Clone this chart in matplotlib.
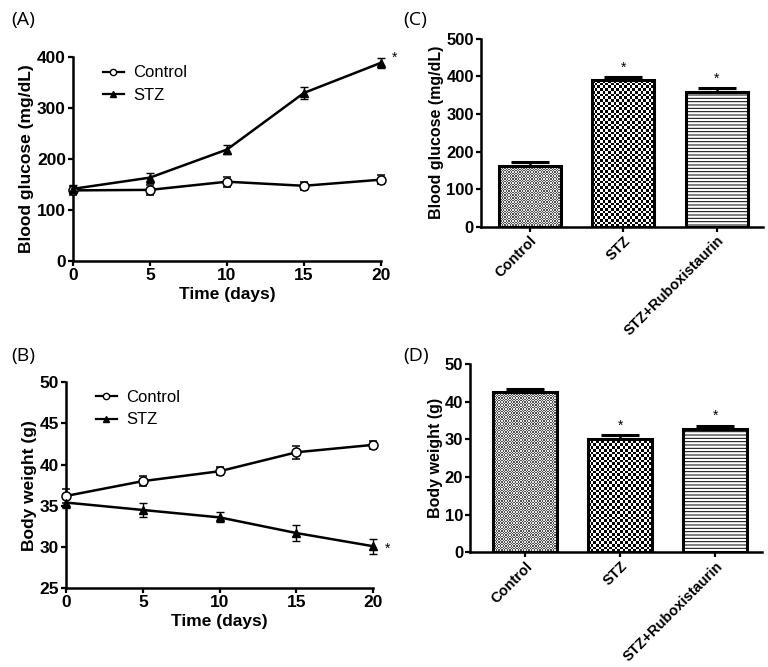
import numpy as np
import matplotlib
matplotlib.use("Agg")
import matplotlib.pyplot as plt
from matplotlib.colors import ListedColormap
from matplotlib.lines import Line2D

plt.rcParams['font.family'] = ['Liberation Sans', 'DejaVu Sans']
plt.rcParams['hatch.linewidth'] = 0.7
plt.rcParams['hatch.color'] = '#6a6a6a'

# ---- data ----
days = [0, 5, 10, 15, 20]
glu_control = [138, 139, 155, 147, 159]
glu_control_err = [9, 10, 10, 8, 9]
glu_stz = [141, 163, 218, 329, 388]
glu_stz_err = [8, 10, 9, 11, 10]

bw_control = [36.2, 38.0, 39.2, 41.5, 42.4]
bw_control_err = [0.8, 0.6, 0.5, 0.8, 0.5]
bw_stz = [35.4, 34.5, 33.6, 31.7, 30.1]
bw_stz_err = [0.6, 0.9, 0.6, 1.0, 0.9]

groups = ['Control', 'STZ', 'STZ+Ruboxistaurin']
bar_glu = [161, 389, 357]
bar_glu_err = [10, 9, 12]
bar_bw = [42.5, 30.1, 32.7]
bar_bw_err = [0.9, 1.0, 1.0]
glu_sig = [False, True, True]
bw_sig = [False, True, True]

fig = plt.figure(figsize=(7.68, 6.67), dpi=100)

def style_axes(ax, tick_fs=12.5):
    for s in ['top', 'right']:
        ax.spines[s].set_visible(False)
    for s in ['left', 'bottom']:
        ax.spines[s].set_linewidth(1.8)
    ax.tick_params(direction='out', length=3.8, width=1.6, labelsize=tick_fs, pad=1.2)
    for lab in ax.get_xticklabels() + ax.get_yticklabels():
        lab.set_fontweight('bold')

def line_panel(rect, ctrl, ctrl_e, stz, stz_e, ylim, yticks, ylabel, star_y, legend_pos):
    ax = fig.add_axes(rect)
    ax.errorbar(days, ctrl, yerr=ctrl_e, color='k', lw=1.8, marker='o', ms=6.5,
                mfc='white', mec='k', mew=1.1, capsize=3, elinewidth=1.0, capthick=1.0,
                clip_on=False, zorder=3)
    ax.errorbar(days, stz, yerr=stz_e, color='k', lw=1.8, marker='^', ms=5.5,
                mfc='k', mec='k', capsize=3, elinewidth=1.0, capthick=1.0,
                clip_on=False, zorder=3)
    ax.set_xlim(0, 20)
    ax.set_ylim(*ylim)
    ax.set_xticks(days)
    ax.set_yticks(yticks)
    ax.set_xlabel('Time (days)', fontsize=12.5, fontweight='bold', labelpad=3)
    ax.set_ylabel(ylabel, fontsize=12.5, fontweight='bold', labelpad=2)
    style_axes(ax)
    ax.text(20.9, star_y, '*', fontsize=10, ha='center', va='center')
    handles = [Line2D([], [], color='k', lw=1.6, marker='o', ms=4.5, mfc='white', mec='k', mew=1.0),
               Line2D([], [], color='k', lw=1.6, marker='^', ms=4.5, mfc='k', mec='k')]
    ax.legend(handles, ['Control', 'STZ'], loc='upper left', bbox_to_anchor=legend_pos,
              frameon=False, fontsize=12, handlelength=1.25, handletextpad=0.6,
              labelspacing=0.45, borderaxespad=0)
    return ax

def checker(ax, bar, cell_px, light, dark):
    x0, y0 = bar.get_x(), bar.get_y()
    w, h = bar.get_width(), bar.get_height()
    p0 = ax.transData.transform((x0, y0))
    p1 = ax.transData.transform((x0 + w, y0 + h))
    nx = max(1, int(round((p1[0] - p0[0]) / cell_px)))
    ny = max(1, int(round((p1[1] - p0[1]) / cell_px)))
    arr = np.add.outer(np.arange(ny), np.arange(nx)) % 2
    im = ax.imshow(arr, cmap=ListedColormap([light, dark]), extent=(x0, x0 + w, y0, y0 + h),
                   aspect='auto', interpolation='nearest', origin='lower', zorder=1)
    im.set_clip_path(bar)

def bar_panel(rect, vals, errs, sig, ylim, yticks, ylabel, xlim, width, star_off, label_fs):
    ax = fig.add_axes(rect)
    ax.set_xlim(*xlim)
    ax.set_ylim(*ylim)
    x = np.arange(len(groups))
    bars = ax.bar(x, vals, width=width, facecolor='none', edgecolor='k', linewidth=2.2, zorder=2)
    ax.set_xlim(*xlim)
    ax.set_ylim(*ylim)
    checker(ax, bars[0], 1.35, '#e8e8e8', '#505050')
    checker(ax, bars[1], 2.7, 'white', 'black')
    bars[2].set_hatch('-----')
    ax.errorbar(x, vals, yerr=[np.zeros(len(vals)), errs], fmt='none', ecolor='k',
                elinewidth=1.8, capsize=14, capthick=2.2, zorder=3)
    for xi, v, e, s in zip(x, vals, errs, sig):
        if s:
            ax.text(xi, v + e + star_off, '*', ha='center', va='center', fontsize=10)
    ax.set_xlim(*xlim)
    ax.set_ylim(*ylim)
    ax.set_yticks(yticks)
    ax.set_xticks(x)
    ax.set_xticklabels(groups, rotation=45, ha='right', rotation_mode='anchor')
    ax.set_ylabel(ylabel, fontsize=label_fs, fontweight='bold', labelpad=1.5)
    style_axes(ax, tick_fs=12)
    for lab in ax.get_xticklabels():
        lab.set_fontsize(10.5)
    return ax

# (A)
line_panel([0.095, 0.609, 0.401, 0.306], glu_control, glu_control_err, glu_stz, glu_stz_err,
           (0, 400), [0, 100, 200, 300, 400], 'Blood glucose (mg/dL)', 398, (0.075, 0.99))
# (B)
line_panel([0.086, 0.118, 0.400, 0.309], bw_control, bw_control_err, bw_stz, bw_stz_err,
           (25, 50), [25, 30, 35, 40, 45, 50], 'Body weight (g)', 29.8, (0.075, 0.995))
# (C)
bar_panel([0.626, 0.660, 0.367, 0.282], bar_glu, bar_glu_err, glu_sig, (0, 500),
          [0, 100, 200, 300, 400, 500], 'Blood glucose (mg/dL)', (-0.525, 2.49), 0.66, 25, 11.5)
# (D)
bar_panel([0.612, 0.172, 0.380, 0.282], bar_bw, bar_bw_err, bw_sig, (0, 50),
          [0, 10, 20, 30, 40, 50], 'Body weight (g)', (-0.58, 2.49), 0.67, 2.6, 11.5)

pfont = ['Open Sans', 'DejaVu Sans']
fig.text(0.015, 0.97, '(A)', fontsize=14, family=pfont, va='center')
fig.text(0.525, 0.97, '(C)', fontsize=14, family=pfont, va='center')
fig.text(0.015, 0.466, '(B)', fontsize=14, family=pfont, va='center')
fig.text(0.525, 0.466, '(D)', fontsize=14, family=pfont, va='center')

fig.savefig('out.png', dpi=100)
